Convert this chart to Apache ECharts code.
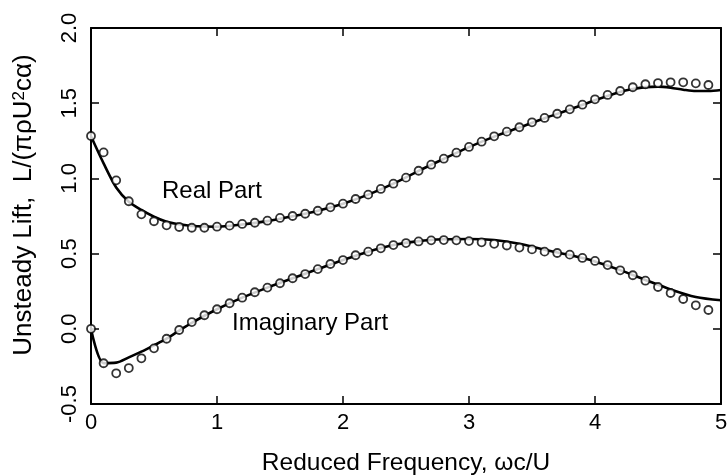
<!DOCTYPE html>
<html>
<head>
<meta charset="utf-8">
<script src="https://cdn.jsdelivr.net/npm/echarts@6/dist/echarts.min.js"></script>
<style>
  html, body { margin: 0; padding: 0; background: #fff; }
  #chart { width: 728px; height: 476px; }
</style>
</head>
<body>
<div id="chart"></div>
<script>
// Reduced frequencies of the measured points
const freqMeasured = [0, 0.1, 0.2, 0.3, 0.4, 0.5, 0.6, 0.7, 0.8, 0.9,
  1.0, 1.1, 1.2, 1.3, 1.4, 1.5, 1.6, 1.7, 1.8, 1.9,
  2.0, 2.1, 2.2, 2.3, 2.4, 2.5, 2.6, 2.7, 2.8, 2.9,
  3.0, 3.1, 3.2, 3.3, 3.4, 3.5, 3.6, 3.7, 3.8, 3.9,
  4.0, 4.1, 4.2, 4.3, 4.4, 4.5, 4.6, 4.7, 4.8, 4.9];

// Measured lift, real and imaginary parts (open circles)
const realMeasured = [1.282, 1.173, 0.987, 0.848, 0.761, 0.715, 0.688, 0.677, 0.672, 0.672,
  0.679, 0.686, 0.697, 0.705, 0.719, 0.737, 0.750, 0.765, 0.785, 0.808,
  0.832, 0.863, 0.892, 0.930, 0.965, 1.005, 1.051, 1.091, 1.131, 1.171,
  1.209, 1.244, 1.280, 1.311, 1.340, 1.373, 1.402, 1.430, 1.459, 1.490,
  1.526, 1.555, 1.581, 1.606, 1.626, 1.634, 1.639, 1.639, 1.632, 1.621];

const imagMeasured = [0.000, -0.229, -0.296, -0.261, -0.196, -0.130, -0.066, -0.008, 0.045, 0.090,
  0.130, 0.170, 0.207, 0.243, 0.274, 0.303, 0.336, 0.364, 0.397, 0.431,
  0.457, 0.489, 0.513, 0.535, 0.557, 0.570, 0.581, 0.588, 0.590, 0.588,
  0.583, 0.575, 0.565, 0.554, 0.540, 0.528, 0.513, 0.504, 0.493, 0.471,
  0.451, 0.424, 0.389, 0.356, 0.320, 0.278, 0.238, 0.198, 0.156, 0.125];

// Computed curves (solid lines)
const freqRealFit = [0, 0.1, 0.2, 0.3, 0.4, 0.5, 0.6, 0.7, 0.8, 1.0,
  1.2, 1.4, 1.6, 1.8, 2.0, 2.2, 2.4, 2.6, 2.8, 3.0,
  3.2, 3.4, 3.6, 3.8, 4.0, 4.2, 4.3, 4.4, 4.5, 4.6,
  4.7, 4.8, 4.9, 5.0];
const realFit = [1.280, 1.100, 0.940, 0.845, 0.790, 0.745, 0.712, 0.695, 0.684, 0.679,
  0.694, 0.716, 0.748, 0.785, 0.832, 0.892, 0.965, 1.050, 1.130, 1.208,
  1.278, 1.338, 1.400, 1.458, 1.520, 1.575, 1.594, 1.607, 1.610, 1.603,
  1.590, 1.581, 1.581, 1.588];

const freqImagFit = [0, 0.1, 0.2, 0.3, 0.4, 0.5, 0.6, 0.7, 0.8, 1.0,
  1.2, 1.4, 1.6, 1.8, 2.0, 2.2, 2.4, 2.6, 2.8, 3.0,
  3.2, 3.4, 3.6, 3.8, 4.0, 4.2, 4.4, 4.6, 4.8, 5.0];
const imagFit = [0.000, -0.228, -0.225, -0.190, -0.152, -0.110, -0.066, -0.012, 0.040, 0.130,
  0.207, 0.274, 0.336, 0.397, 0.457, 0.513, 0.557, 0.583, 0.595, 0.597,
  0.590, 0.565, 0.525, 0.490, 0.448, 0.390, 0.325, 0.262, 0.212, 0.190];

const xTicks = { min: 0, max: 5, interval: 1 };
const yTicks = { min: -0.5, max: 2.0, interval: 0.5 };

const FONT = 'Liberation Sans, Arial, Helvetica, sans-serif';
const zip = (xs, ys) => xs.map((x, i) => [x, ys[i]]);

const chart = echarts.init(document.getElementById('chart'), null, { renderer: 'canvas' });

const frameLine = { show: true, onZero: false, lineStyle: { color: '#000', width: 2 } };
const innerTick = { show: true, inside: true, length: 8, lineStyle: { color: '#000', width: 1.5 } };

const fitLine = {
  type: 'line', showSymbol: false, symbol: 'none', smooth: 0.3,
  lineStyle: { color: '#000', width: 2.6 }, z: 2, silent: true
};
const measuredDots = {
  type: 'scatter', symbol: 'circle', symbolSize: 8,
  itemStyle: { color: '#fff', borderColor: '#000', borderWidth: 1.8 }, z: 3, silent: true
};

chart.setOption({
  animation: false,
  backgroundColor: '#fff',
  grid: { left: 91, right: 7, top: 28, bottom: 72, containLabel: false, outerBoundsMode: 'none' },
  xAxis: [
    {
      type: 'value', position: 'bottom', ...xTicks,
      axisLine: frameLine, axisTick: innerTick, splitLine: { show: false },
      axisLabel: { color: '#000', fontSize: 22, fontFamily: FONT, margin: 8 },
      name: 'Reduced Frequency, \u03c9c/U', nameLocation: 'middle', nameGap: 47,
      nameTextStyle: { color: '#000', fontSize: 24.5, fontFamily: FONT }
    },
    {
      type: 'value', position: 'top', ...xTicks,
      axisLine: frameLine, axisTick: innerTick, splitLine: { show: false },
      axisLabel: { show: false }
    }
  ],
  yAxis: [
    {
      type: 'value', position: 'left', ...yTicks,
      axisLine: frameLine, axisTick: innerTick, splitLine: { show: false },
      axisLabel: {
        color: '#000', fontSize: 22, fontFamily: FONT, rotate: 90, margin: 10,
        formatter: v => v.toFixed(1)
      }
    },
    {
      type: 'value', position: 'right', ...yTicks,
      axisLine: frameLine, axisTick: innerTick, splitLine: { show: false },
      axisLabel: { show: false }
    }
  ],
  graphic: [
    {
      type: 'text', x: 24, y: 205, rotation: Math.PI / 2,
      style: {
        text: 'Unsteady Lift,  L/(\u03c0\u03c1U{sup|2}c\u03b1)',
        fill: '#000', font: '26px ' + FONT, align: 'center', verticalAlign: 'middle',
        rich: {
          sup: { fontSize: 17, fontFamily: FONT, fill: '#000', verticalAlign: 'top', padding: [0, 0, 8, 0] }
        }
      }
    },
    {
      type: 'text', x: 212, y: 191,
      style: { text: 'Real Part', fill: '#000', font: '24px ' + FONT, align: 'center', verticalAlign: 'middle' }
    },
    {
      type: 'text', x: 232, y: 323,
      style: { text: 'Imaginary Part', fill: '#000', font: '24px ' + FONT, align: 'left', verticalAlign: 'middle' }
    }
  ],
  series: [
    { ...fitLine, name: 'Real (theory)', data: zip(freqRealFit, realFit) },
    { ...fitLine, name: 'Imaginary (theory)', data: zip(freqImagFit, imagFit) },
    { ...measuredDots, name: 'Real (measured)', data: zip(freqMeasured, realMeasured) },
    { ...measuredDots, name: 'Imaginary (measured)', data: zip(freqMeasured, imagMeasured) }
  ]
});
</script>
</body>
</html>
